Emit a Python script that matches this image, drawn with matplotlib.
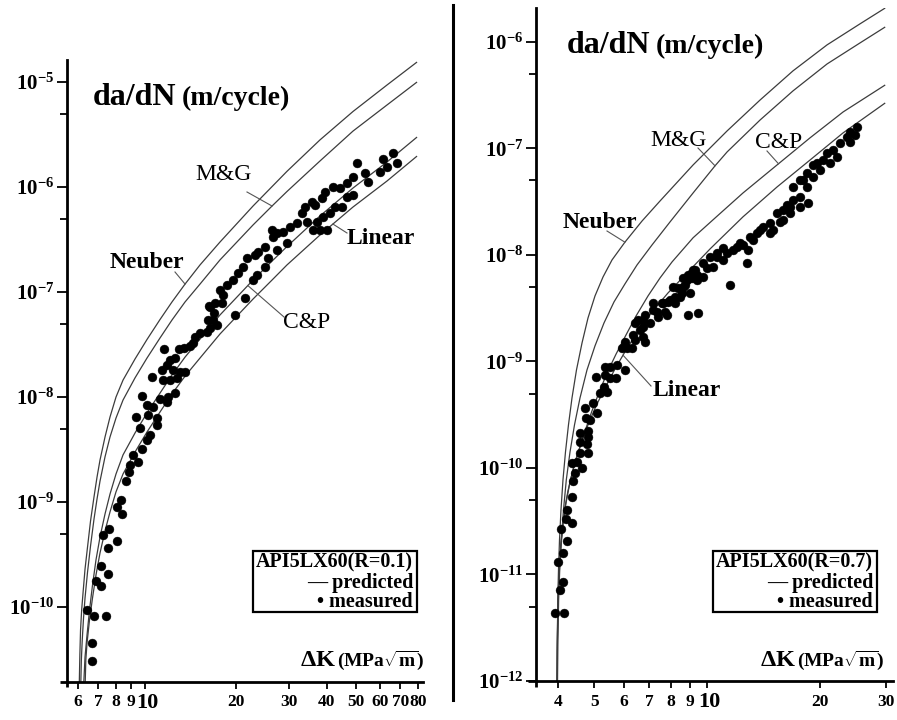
import numpy as np
import matplotlib
matplotlib.use("Agg")
import matplotlib.pyplot as plt
from matplotlib.lines import Line2D
from matplotlib.patches import Rectangle
from matplotlib.ticker import NullLocator

plt.rcParams['font.family'] = ['Liberation Serif', 'DejaVu Serif']
plt.rcParams['mathtext.fontset'] = 'custom'
plt.rcParams['mathtext.rm'] = 'Liberation Serif:bold'
plt.rcParams['mathtext.bf'] = 'Liberation Serif:bold'
plt.rcParams['mathtext.it'] = 'Liberation Serif:bold'

# ---------------- R = 0.1 : measured crack growth ----------------
r01_dk = [6.68, 6.68, 6.43, 6.78, 7.43, 6.88, 7.15, 7.15, 7.54, 7.26, 7.60, 7.54, 8.08, 8.08,
          8.33, 8.39, 8.65, 8.85, 8.92, 9.13, 9.48, 9.77, 10.15, 10.39, 9.62, 10.96, 9.34,
          10.23, 10.96, 9.77, 10.15, 10.63, 11.21, 11.83, 11.92, 12.57, 10.55, 11.47, 12.10,
          12.76, 11.38, 12.38, 13.06, 13.57, 11.83, 12.10, 12.57, 11.56, 12.96, 13.46, 14.09,
          14.64, 15.21, 16.05, 16.17, 16.93, 17.32, 16.29, 17.99, 19.86, 16.42, 17.05, 17.71,
          18.13, 18.69, 19.56, 20.32, 21.11, 21.77, 21.44, 22.79, 23.49, 23.13, 23.67, 24.97,
          24.97, 25.55, 26.54, 27.36, 29.52, 26.34, 27.36, 28.64, 30.21, 31.86, 33.11, 33.87,
          34.39, 35.73, 36.55, 37.11, 36.0, 37.97, 40.06, 38.86, 38.56, 39.45, 40.99, 41.94,
          42.58, 44.23, 44.91, 46.66, 46.66, 48.84, 48.84, 50.35, 53.52, 54.76, 59.99, 61.39,
          63.28, 66.25, 68.3, 14.42, 16.42, 16.8]
r01_rate = [3.06e-11, 4.54e-11, 9.36e-11, 8.2e-11, 8.2e-11, 1.77e-10, 1.58e-10, 2.45e-10,
            2.06e-10, 4.85e-10, 5.53e-10, 3.65e-10, 4.25e-10, 8.96e-10, 1.04e-9, 7.69e-10,
            1.58e-9, 1.93e-9, 2.25e-9, 2.81e-9, 2.41e-9, 3.2e-9, 3.89e-9, 4.35e-9, 5.07e-9,
            5.41e-9, 6.45e-9, 6.74e-9, 6.31e-9, 1.02e-8, 8.4e-9, 8.03e-9, 9.57e-9, 8.96e-9,
            1.0e-8, 1.09e-8, 1.55e-8, 1.45e-8, 1.45e-8, 1.52e-8, 1.81e-8, 1.81e-8, 1.73e-8,
            1.73e-8, 2.02e-8, 2.25e-8, 2.35e-8, 2.86e-8, 2.86e-8, 2.93e-8, 3.06e-8, 3.73e-8,
            4.07e-8, 4.16e-8, 5.41e-8, 6.31e-8, 4.85e-8, 7.36e-8, 7.86e-8, 6.04e-8, 7.2e-8,
            7.86e-8, 1.04e-7, 9.36e-8, 1.17e-7, 1.30e-7, 1.52e-7, 1.73e-7, 2.11e-7, 8.77e-8,
            1.30e-7, 1.45e-7, 2.25e-7, 2.41e-7, 2.69e-7, 1.73e-7, 2.11e-7, 3.34e-7, 2.51e-7,
            2.93e-7, 3.89e-7, 3.65e-7, 3.73e-7, 4.16e-7, 4.54e-7, 5.65e-7, 6.45e-7, 4.65e-7,
            7.2e-7, 6.74e-7, 4.65e-7, 3.89e-7, 3.89e-7, 3.89e-7, 5.18e-7, 7.86e-7, 8.96e-7,
            5.65e-7, 1.0e-6, 6.45e-7, 9.78e-7, 6.45e-7, 1.09e-6, 8.03e-7, 1.24e-6, 8.4e-7,
            1.69e-6, 1.36e-6, 1.12e-6, 1.39e-6, 1.85e-6, 1.55e-6, 2.11e-6, 1.69e-6, 3.27e-8,
            4.54e-8, 5.41e-8]

# ---------------- R = 0.1 : predicted curves ----------------
r01_neuber_dk = [6.06, 6.085, 6.117, 6.169, 6.234, 6.330, 6.452, 6.601, 6.779, 6.937, 7.096,
                 7.372, 7.658, 8.017, 8.458, 9.266, 10.154, 11.213, 12.285, 13.571, 15.21,
                 17.71, 22.79, 29.52, 37.97, 48.84, 63.28, 79.58]
r01_neuber_rate = [1.93e-11, 3.49e-11, 6.04e-11, 9.36e-11, 1.36e-10, 2.30e-10, 3.73e-10,
                   6.59e-10, 1.12e-9, 1.73e-9, 2.51e-9, 4.16e-9, 6.45e-9, 1.0e-8, 1.45e-8,
                   2.30e-8, 3.53e-8, 5.47e-8, 8.04e-8, 1.19e-7, 1.81e-7, 2.99e-7, 6.59e-7,
                   1.41e-6, 2.81e-6, 5.24e-6, 9.36e-6, 1.55e-5]
r01_mg_dk = [6.131, 6.155, 6.197, 6.258, 6.330, 6.452, 6.601, 6.779, 6.937, 7.096, 7.372,
             7.658, 8.017, 8.458, 9.266, 10.154, 11.213, 12.285, 13.571, 15.21, 17.71, 22.79,
             26.34, 29.52, 37.97, 48.84, 63.28, 79.58]
r01_mg_rate = [1.93e-11, 3.13e-11, 4.85e-11, 7.86e-11, 1.22e-10, 2.15e-10, 3.81e-10, 6.89e-10,
               1.07e-9, 1.58e-9, 2.69e-9, 4.16e-9, 6.31e-9, 9.36e-9, 1.52e-8, 2.35e-8,
               3.65e-8, 5.41e-8, 8.04e-8, 1.19e-7, 2.02e-7, 4.35e-7, 6.59e-7, 9.06e-7,
               1.77e-6, 3.41e-6, 6.04e-6, 1.0e-5]
r01_cp_dk = [6.272, 6.330, 6.427, 6.550, 6.702, 6.882, 7.096, 7.372, 7.658, 8.017, 8.458,
             9.266, 10.154, 11.213, 12.285, 13.571, 15.21, 17.71, 22.79, 26.34, 29.52, 37.97,
             48.84, 63.28, 79.58]
r01_cp_rate = [1.93e-11, 3.34e-11, 5.41e-11, 9.36e-11, 1.62e-10, 2.81e-10, 4.64e-10, 7.69e-10,
               1.19e-9, 1.85e-9, 2.81e-9, 4.54e-9, 7.05e-9, 1.09e-8, 1.62e-8, 2.40e-8,
               3.56e-8, 6.04e-8, 1.30e-7, 1.97e-7, 2.71e-7, 5.30e-7, 9.78e-7, 1.73e-6,
               2.99e-6]
r01_lin_dk = [6.339, 6.368, 6.427, 6.550, 6.702, 6.882, 7.096, 7.372, 7.658, 8.017, 8.458,
              9.266, 10.154, 11.213, 12.285, 13.571, 15.21, 17.71, 22.79, 26.34, 29.52,
              37.97, 48.84, 63.28, 79.58]
r01_lin_rate = [1.93e-11, 3.13e-11, 4.54e-11, 7.52e-11, 1.22e-10, 2.02e-10, 3.27e-10,
                5.3e-10, 8.04e-10, 1.25e-9, 1.85e-9, 2.99e-9, 4.64e-9, 7.2e-9, 1.07e-8,
                1.58e-8, 2.35e-8, 3.98e-8, 8.57e-8, 1.30e-7, 1.81e-7, 3.49e-7, 6.45e-7,
                1.14e-6, 1.97e-6]

# ---------------- R = 0.7 : measured crack growth ----------------
r07_dk = [3.93, 4.16, 4.06, 4.13, 4.01, 4.13, 4.23, 4.08, 4.37, 4.21, 4.23, 4.37, 4.39, 4.45,
          4.37, 4.50, 4.64, 4.58, 4.82, 4.79, 4.58, 4.82, 4.82, 4.58, 4.76, 4.88, 5.09, 4.97,
          4.73, 5.18, 5.41, 5.31, 5.06, 5.35, 5.51, 5.35, 5.51, 5.75, 5.72, 6.04, 5.93, 6.12,
          6.31, 6.04, 6.43, 6.43, 6.63, 6.83, 6.35, 6.75, 6.83, 7.05, 7.18, 7.40, 6.75, 6.55,
          7.73, 7.59, 7.87, 8.22, 8.22, 8.58, 8.90, 8.37, 8.74, 9.12, 9.40, 8.90, 8.12, 8.63,
          9.18, 9.76, 10.18, 10.63, 11.03, 9.46, 8.84, 9.40, 9.76, 9.29, 10.0, 10.63, 10.38,
          11.03, 11.52, 11.31, 11.73, 12.02, 12.47, 12.86, 12.79, 13.02, 13.59, 14.1, 14.72,
          15.66, 14.72, 15.0, 15.37, 15.95, 16.34, 16.95, 16.64, 17.7, 18.59, 17.7, 15.95,
          18.48, 16.95, 18.03, 19.17, 20.01, 19.65, 20.39, 21.28, 20.89, 21.68, 22.22, 22.63,
          23.62, 24.06, 24.06, 25.12, 24.81, 6.75, 7.36, 7.82, 7.18, 7.63, 7.97, 8.47, 8.63,
          9.01, 19.17, 17.7, 18.48, 16.64, 13.85, 13.27, 12.25]
r07_rate = [4.35e-12, 4.35e-12, 7.15e-12, 8.5e-12, 1.31e-11, 1.59e-11, 2.07e-11, 2.67e-11,
            3.05e-11, 3.32e-11, 4.04e-11, 5.35e-11, 7.55e-11, 8.97e-11, 1.11e-10, 1.14e-10,
            1.0e-10, 1.38e-10, 1.38e-10, 1.68e-10, 1.75e-10, 1.95e-10, 2.22e-10, 2.13e-10,
            2.94e-10, 2.82e-10, 3.28e-10, 4.07e-10, 3.66e-10, 5.06e-10, 5.18e-10, 5.77e-10,
            7.14e-10, 7.46e-10, 7.0e-10, 8.87e-10, 8.87e-10, 9.27e-10, 7.0e-10, 8.32e-10,
            1.34e-9, 1.34e-9, 1.34e-9, 1.52e-9, 1.59e-9, 2.3e-9, 1.98e-9, 1.52e-9, 1.77e-9,
            1.70e-9, 2.74e-9, 2.3e-9, 3.05e-9, 2.62e-9, 2.11e-9, 2.45e-9, 2.92e-9, 3.54e-9,
            3.62e-9, 3.54e-9, 4.04e-9, 4.4e-9, 2.74e-9, 4.9e-9, 5.22e-9, 6.08e-9, 6.49e-9,
            6.49e-9, 5.01e-9, 6.08e-9, 7.23e-9, 8.41e-9, 9.57e-9, 1.04e-8, 1.16e-8, 2.85e-9,
            5.82e-9, 5.82e-9, 6.21e-9, 7.23e-9, 7.55e-9, 9.57e-9, 7.71e-9, 8.97e-9, 5.22e-9,
            1.04e-8, 1.11e-8, 1.19e-8, 1.24e-8, 1.11e-8, 8.41e-9, 1.48e-8, 1.61e-8, 1.83e-8,
            2.0e-8, 2.04e-8, 1.61e-8, 1.72e-8, 2.48e-8, 2.65e-8, 2.94e-8, 3.28e-8, 2.48e-8,
            2.82e-8, 3.08e-8, 3.51e-8, 2.13e-8, 4.35e-8, 4.35e-8, 5.06e-8, 5.4e-8, 6.28e-8,
            7.31e-8, 7.8e-8, 7.31e-8, 9.08e-8, 9.69e-8, 8.32e-8, 1.13e-7, 1.28e-7, 1.15e-7,
            1.43e-7, 1.59e-7, 1.34e-7, 2.45e-9, 2.92e-9, 2.74e-9, 3.54e-9, 3.54e-9, 3.78e-9,
            4.04e-9, 5.01e-9, 4.4e-9, 7.0e-8, 5.06e-8, 5.89e-8, 2.82e-8, 1.72e-8, 1.38e-8,
            1.30e-8]

# ---------------- R = 0.7 : predicted curves ----------------
r07_neuber_dk = [3.981, 3.989, 4.001, 4.018, 4.043, 4.080, 4.130, 4.194, 4.272, 4.365, 4.487,
                 4.642, 4.816, 5.027, 5.281, 5.580, 6.043, 6.708, 7.493, 9.18, 11.31, 13.85,
                 16.95, 20.89, 25.59, 29.84]
r07_neuber_rate = [1e-12, 2.43e-12, 5.77e-12, 1.10e-11, 2.11e-11, 4.04e-11, 7.71e-11,
                   1.41e-10, 2.54e-10, 4.54e-10, 8.32e-10, 1.49e-9, 2.56e-9, 4.12e-9, 6.21e-9,
                   8.97e-9, 1.32e-8, 2.08e-8, 3.21e-8, 7.0e-8, 1.46e-7, 2.85e-7, 5.35e-7,
                   9.38e-7, 1.48e-6, 2.08e-6]
r07_mg_dk = [3.994, 4.004, 4.021, 4.048, 4.088, 4.143, 4.215, 4.312, 4.433, 4.585, 4.786,
             5.027, 5.313, 5.649, 6.043, 6.506, 7.133, 7.966, 9.18, 10.50, 11.31, 13.85, 16.95,
             20.89, 25.59, 29.84]
r07_mg_rate = [1e-12, 2.43e-12, 5.77e-12, 1.10e-11, 2.11e-11, 4.04e-11, 7.71e-11, 1.41e-10,
               2.54e-10, 4.54e-10, 8.32e-10, 1.40e-9, 2.30e-9, 3.62e-9, 5.35e-9, 8.05e-9,
               1.24e-8, 2.04e-8, 3.82e-8, 6.86e-8, 9.27e-8, 1.85e-7, 3.47e-7, 6.21e-7, 9.8e-7,
               1.38e-6]
r07_cp_dk = [3.981, 3.989, 3.999, 4.014, 4.039, 4.074, 4.120, 4.183, 4.259, 4.378, 4.529,
             4.728, 4.934, 5.184, 5.445, 5.719, 6.043, 6.467, 6.960, 7.493, 8.065, 9.18, 10.50,
             12.47, 15.37, 18.83, 23.05, 29.84]
r07_cp_rate = [1e-12, 2.18e-12, 4.17e-12, 7.15e-12, 1.20e-11, 1.89e-11, 2.85e-11, 4.31e-11,
               6.08e-11, 9.16e-11, 1.38e-10, 2.22e-10, 3.43e-10, 5.4e-10, 8.15e-10, 1.17e-9,
               1.70e-9, 2.67e-9, 4.12e-9, 6.08e-9, 8.59e-9, 1.45e-8, 2.22e-8, 3.82e-8, 7.0e-8,
               1.26e-7, 2.2e-7, 3.94e-7]
r07_lin_dk = [3.986, 3.989, 3.999, 4.014, 4.039, 4.076, 4.130, 4.207, 4.312, 4.446, 4.613,
              4.816, 5.058, 5.346, 5.684, 6.081, 6.546, 7.133, 7.870, 8.898, 10.19, 12.47,
              15.37, 18.83, 23.05, 29.84]
r07_lin_rate = [1e-12, 1.95e-12, 3.74e-12, 6.42e-12, 1.08e-11, 1.77e-11, 2.92e-11, 4.69e-11,
                7.4e-11, 1.14e-10, 1.68e-10, 2.54e-10, 3.82e-10, 5.64e-10, 8.51e-10, 1.28e-9,
                1.93e-9, 2.92e-9, 4.40e-9, 6.92e-9, 1.14e-8, 2.28e-8, 4.35e-8, 7.8e-8,
                1.40e-7, 2.67e-7]

# ---------------- axis ticks ----------------
r01_xticks = [6, 7, 8, 9, 10, 20, 30, 40, 50, 60, 70, 80]
r07_xticks = [4, 5, 6, 7, 8, 9, 10, 20, 30]
r01_decades = [-10, -9, -8, -7, -6, -5]
r07_decades = [-12, -11, -10, -9, -8, -7, -6]

W, H = 897, 720
fig = plt.figure(figsize=(W / 100, H / 100), dpi=100)


def fx(px):
    return px / W


def fy(py):
    return 1 - py / H


def make_axes(left, right, top, bottom):
    return fig.add_axes([fx(left), fy(bottom), (right - left) / W, (bottom - top) / H])


axL = make_axes(67, 423, 60, 682)
axR = make_axes(536, 893, 8, 681)

CURVE = dict(color='#3c3c3c', lw=0.9, solid_capstyle='butt', solid_joinstyle='round')


def style(ax, xlim, ylim, xticks, decades, ext_left, ext_down):
    ax.set_xscale('log')
    ax.set_yscale('log')
    ax.set_xlim(*xlim)
    ax.set_ylim(*ylim)
    ax.patch.set_alpha(0)
    for s in ('top', 'right'):
        ax.spines[s].set_visible(False)
    for s in ('left', 'bottom'):
        ax.spines[s].set_linewidth(2.0)
    ax.set_xticks(xticks)
    # the decade label "10" is set larger, just right of its tick
    ax.set_xticklabels(['' if t == 10 else str(t) for t in xticks])
    ax.annotate('10', xy=(10, 0), xycoords=('data', 'axes fraction'), xytext=(2, -8),
                textcoords='offset points', ha='center', va='top', fontsize=16,
                fontweight='bold')
    ax.xaxis.set_minor_locator(NullLocator())
    for lab in ax.get_xticklabels():
        lab.set_fontweight('bold')
        lab.set_fontsize(12.5)
    ax.set_yticks([10.0 ** d for d in decades])
    ax.set_yticklabels([r'$\mathbf{10^{%d}}$' % d for d in decades])
    ax.set_yticks([5 * 10.0 ** d for d in decades if 5 * 10.0 ** d < ylim[1]], minor=True)
    ax.yaxis.set_minor_formatter(plt.NullFormatter())
    ax.tick_params(axis='y', which='major', direction='out', length=7, width=1.3,
                   labelsize=15, pad=2)
    ax.tick_params(axis='y', which='minor', direction='out', length=5, width=1.3)
    ax.tick_params(axis='x', which='major', direction='out', length=5, width=1.3, pad=4)
    # axis lines run slightly past the corner
    ax.plot([-ext_left, 0], [0, 0], transform=ax.transAxes, color='black', lw=2.0,
            clip_on=False, solid_capstyle='butt')
    ax.plot([0, 0], [-ext_down, 0], transform=ax.transAxes, color='black', lw=2.0,
            clip_on=False, solid_capstyle='butt')


style(axL, (5.517, 83.27), (1.93e-11, 1.62e-5), r01_xticks, r01_decades, 7 / 356, 5 / 622)
style(axR, (3.50, 31.3), (1e-12, 2.08e-6), r07_xticks, r07_decades, 8 / 357, 6 / 673)

panels = [
    (axL, r01_dk, r01_rate, [(r01_neuber_dk, r01_neuber_rate), (r01_mg_dk, r01_mg_rate),
                             (r01_cp_dk, r01_cp_rate), (r01_lin_dk, r01_lin_rate)]),
    (axR, r07_dk, r07_rate, [(r07_neuber_dk, r07_neuber_rate), (r07_mg_dk, r07_mg_rate),
                             (r07_cp_dk, r07_cp_rate), (r07_lin_dk, r07_lin_rate)]),
]
for ax, dk, rate, curves in panels:
    for cdk, crate in curves:
        ax.plot(cdk, crate, **CURVE)
    ax.plot(dk, rate, 'o', color='black', ms=6.4, mec='black', mew=0.3, zorder=3)


def rate_on(cdk, crate, k):
    return 10 ** np.interp(np.log10(k), np.log10(cdk), np.log10(crate))


def label(ax, text, curve, k, tx, ty, bold, lx, ly):
    cdk, crate = curve
    x0, y0 = ax.transData.transform((k, rate_on(cdk, crate, k)))
    end = fig.transFigure.inverted().transform((x0, y0))
    fig.add_artist(Line2D([fx(lx), end[0]], [fy(ly), end[1]], color='#555555', lw=0.8))
    fig.text(fx(tx), fy(ty), text, ha='left', va='center', fontsize=17,
             fontweight='bold' if bold else 'normal')


# curve names, R = 0.1
label(axL, 'Neuber', (r01_neuber_dk, r01_neuber_rate), 13.57, 110, 263, True, 175, 272)
label(axL, 'M&G', (r01_mg_dk, r01_mg_rate), 26.34, 195, 175, False, 247, 192)
label(axL, 'Linear', (r01_lin_dk, r01_lin_rate), 41.9, 347, 239, True, 347, 233)
label(axL, 'C&P', (r01_cp_dk, r01_cp_rate), 21.9, 283, 322, False, 284, 317)
# curve names, R = 0.7
label(axR, 'M&G', (r07_mg_dk, r07_mg_rate), 10.5, 650, 140, False, 698, 148)
label(axR, 'C&P', (r07_cp_dk, r07_cp_rate), 15.5, 755, 143, False, 767, 151)
label(axR, 'Neuber', (r07_neuber_dk, r07_neuber_rate), 6.04, 563, 223, True, 607, 231)
label(axR, 'Linear', (r07_lin_dk, r07_lin_rate), 5.97, 653, 390, True, 651, 386)

# y-axis titles
for x_da, x_unit, base in [(93, 182, 105), (567, 656, 53)]:
    fig.text(fx(x_da), fy(base), 'da/dN', ha='left', va='baseline', fontsize=23,
             fontweight='bold')
    fig.text(fx(x_unit), fy(base), '(m/cycle)', ha='left', va='baseline', fontsize=20,
             fontweight='bold')

# x-axis titles
for x_dk, x_unit in [(300, 337), (760, 797)]:
    fig.text(fx(x_dk), fy(666), r'$\Delta$K', ha='left', va='baseline', fontsize=17.5,
             fontweight='bold')
    fig.text(fx(x_unit), fy(666), r'(MPa$\sqrt{\mathbf{m}}$)', ha='left', va='baseline',
             fontsize=14, fontweight='bold')

# legend boxes
for x0, x1, cond in [(253, 417, 'API5LX60(R=0.1)'), (713, 877, 'API5LX60(R=0.7)')]:
    fig.add_artist(Rectangle((fx(x0), fy(612)), (x1 - x0) / W, (612 - 551) / H,
                             fill=False, lw=1.6, edgecolor='black'))
    for txt, yc in [(cond, 562), ('— predicted', 583), ('• measured', 602)]:
        fig.text(fx(x1 - 4), fy(yc), txt, ha='right', va='center', fontsize=14.5,
                 fontweight='bold')

# divider between the two panels
fig.add_artist(Line2D([fx(453), fx(453)], [fy(5), fy(700)], color='black', lw=2.2))

fig.savefig('out.png', dpi=100)
